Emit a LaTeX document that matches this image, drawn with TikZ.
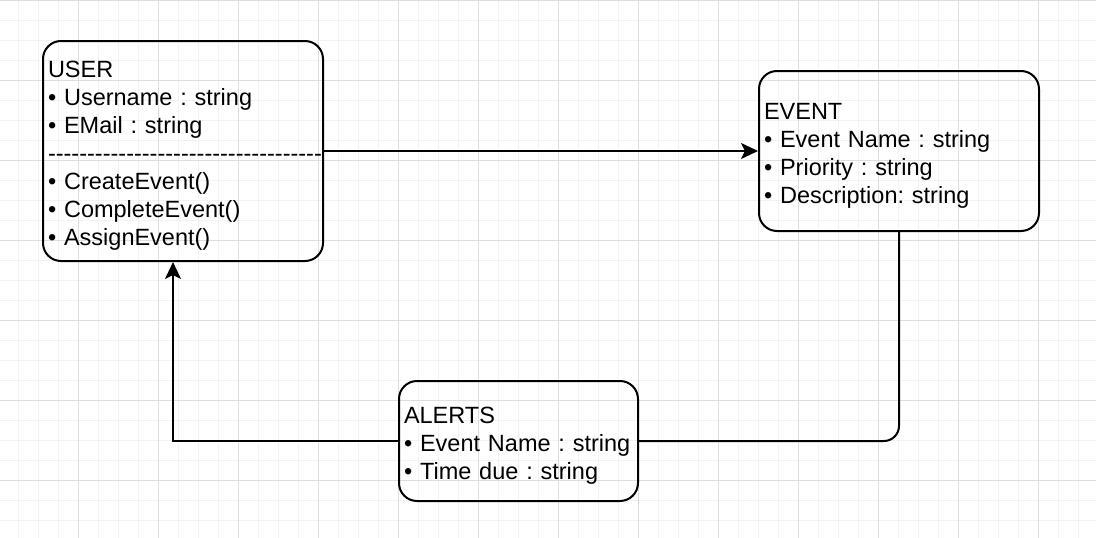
\documentclass[tikz,border=0pt]{standalone}
\usepackage{fontspec}
\setmainfont{Liberation Sans}
\usetikzlibrary{arrows.meta}
\usetikzlibrary{positioning}
\definecolor{gridlight}{HTML}{F2F2F2}
\definecolor{gridheavy}{HTML}{DEDEDE}
\frenchspacing
\tikzset{entity/.style={draw,line width=2pt,rounded corners=18pt,align=left,
                        inner xsep=5pt,inner ysep=0pt,
                        execute at begin node=\rule{0pt}{25pt},
                        font=\fontsize{23.5}{28}\selectfont},
         link/.style={line width=2pt},
         tolink/.style={link,-{Stealth[length=17pt,width=16pt,inset=4pt]}},
         minorline/.style={gridlight,line width=1pt},
         majorline/.style={gridheavy,line width=1pt},
         }
\newcommand{\dashrow}{\mbox{\foreach \k in {1,...,35}{-{}}}}

\begin{document}
\begin{tikzpicture}[x=1pt,y=-1pt]
		\useasboundingbox (0,0) rectangle (1096,538);
		\fill[white] (0,0) rectangle (1096,538);
		% background grid
		\foreach \i in {0,...,54} \draw[minorline] (18.3+20*\i,0) -- (18.3+20*\i,538);
		\foreach \j in {0,...,26} \draw[minorline] (0,20*\j) -- (1096,20*\j);
		\foreach \i in {0,...,13} \draw[majorline] (78.3+80*\i,0) -- (78.3+80*\i,538);
		\foreach \j in {0,...,6} \draw[majorline] (0,80*\j) -- (1096,80*\j);
		% classes
		\node[entity,minimum width=280pt,minimum height=220pt,text width=270pt] (user) at (183,151)
		{USER\\
		• Username : string\\
		• EMail : string\\
		\dashrow\\
		• CreateEvent()\\
		• CompleteEvent()\\
		• AssignEvent()};
		\node[entity,minimum width=280pt,minimum height=160pt,text width=270pt] (event) at (899,151)
		{EVENT\\
		• Event Name : string\\
		• Priority : string\\
		• Description: string};
		\node[entity,minimum width=239pt,minimum height=120pt,text width=229pt] (alerts) at (518.5,441)
		{ALERTS\\
		• Event Name : string\\
		• Time due : string};
		% connectors
		\coordinate (turn) at (173,441);
		\draw[tolink] (user.east) -- (event.west);
		\draw[link,rounded corners=15pt] (event.south) |- (alerts.east);
		\draw[tolink] (alerts.west) -- (turn) -- (turn |- user.south);
\end{tikzpicture}
\end{document}
